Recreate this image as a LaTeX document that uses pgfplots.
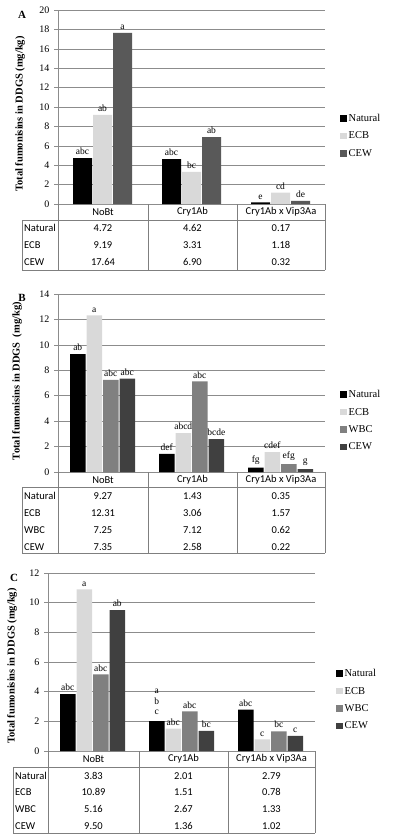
\documentclass[border=0pt]{standalone}
\usepackage{pgfplots}
\pgfplotsset{compat=1.18}
\usepackage{fontspec}
\setmainfont{Liberation Serif}
\newfontfamily\calibri{Carlito}
\definecolor{ecb}{HTML}{D9D9D9}
\definecolor{wbc}{HTML}{808080}
\definecolor{cewA}{HTML}{595959}
\definecolor{cew}{HTML}{404040}
\definecolor{gridc}{HTML}{8C8C8C}
\definecolor{tabc}{HTML}{7F7F7F}

\pgfplotsset{
 sq/.style={legend image code/.code={\fill[##1] (0pt,-3pt) rectangle (6.5pt,3.5pt);}},
 panel/.style={scale only axis, width=267pt, xmin=-0.5, xmax=2.5, ymin=0,
  xtick=\empty, axis x line*=bottom, axis y line*=left,
  axis line style={gridc, line width=0.6pt}, ymajorgrids,
  grid style={gridc, line width=0.6pt}, tick align=outside,
  major tick length=4pt, ytick style={gridc, line width=0.6pt},
  yticklabel style={font=\fontsize{10}{11}\selectfont, xshift=-1pt},
  /pgf/number format/assume math mode=true,
  nodes near coords, point meta=explicit symbolic,
  every node near coord/.append style={font=\fontsize{9.5}{10}\selectfont, inner sep=1pt, yshift=2pt, text=black},
  legend style={draw=none, fill=none, font=\fontsize{10.5}{11}\selectfont, anchor=west, row sep=5pt,
   /tikz/every even column/.append style={column sep=2pt}},
  legend cell align=left,
  clip=false,
 }
}

\begin{document}
\begin{tikzpicture}
\useasboundingbox (0,0) rectangle (392pt,-839pt);
\tikzset{tabtxt/.style={font=\calibri\fontsize{10.5}{11}\selectfont, inner sep=0pt},
 ylab/.style={rotate=90, font=\bfseries\fontsize{10.5}{12}\selectfont},
 plab/.style={font=\bfseries\fontsize{11}{12}\selectfont}}

% ---------------- Panel A ----------------
\begin{axis}[panel, at={(58pt,-204pt)}, anchor=south west, height=194pt,
  ymax=20, ytick={0,2,...,20}, ybar=1pt, bar width=19pt,
  legend style={at={(1.045,0.35)}}]
\addplot[fill=black, draw=none, sq] coordinates {(0,4.72)[abc] (1,4.62)[abc] (2,0.17)[e]};
\addplot[fill=ecb, draw=none, sq] coordinates {(0,9.19)[ab] (1,3.31)[bc] (2,1.18)[cd]};
\addplot[fill=cewA, draw=none, sq] coordinates {(0,17.64)[a] (1,6.90)[ab] (2,0.32)[de]};
\legend{Natural, ECB, CEW}
\end{axis}
\draw[tabc, line width=0.6pt] (22pt,-220pt) -- (325pt,-220pt) (22pt,-270pt) -- (325pt,-270pt)
  (22pt,-220pt) -- (22pt,-270pt) (58pt,-204pt) -- (58pt,-270pt) (148pt,-204pt) -- (148pt,-270pt)
  (237pt,-204pt) -- (237pt,-270pt) (325pt,-204pt) -- (325pt,-270pt);
\node[tabtxt] at (103pt,-212pt) {NoBt};
\node[tabtxt] at (192.5pt,-212pt) {Cry1Ab};
\node[tabtxt] at (281pt,-212pt) {Cry1Ab x Vip3Aa};
\node[tabtxt, anchor=west] at (24pt,-228pt) {Natural};
\node[tabtxt, anchor=west] at (24pt,-245pt) {ECB};
\node[tabtxt, anchor=west] at (24pt,-262pt) {CEW};
\node[tabtxt] at (103pt,-228pt) {4.72}; \node[tabtxt] at (192.5pt,-228pt) {4.62}; \node[tabtxt] at (281pt,-228pt) {0.17};
\node[tabtxt] at (103pt,-245pt) {9.19}; \node[tabtxt] at (192.5pt,-245pt) {3.31}; \node[tabtxt] at (281pt,-245pt) {1.18};
\node[tabtxt] at (103pt,-262pt) {17.64}; \node[tabtxt] at (192.5pt,-262pt) {6.90}; \node[tabtxt] at (281pt,-262pt) {0.32};
\node[ylab] at (20pt,-114pt) {Total fumonisins in DDGS (mg/kg)};
\node[plab] at (22pt,-15pt) {A};

% ---------------- Panel B ----------------
\begin{axis}[panel, at={(58pt,-472pt)}, anchor=south west, height=178pt,
  ymax=14, ytick={0,2,...,14}, ybar=1pt, bar width=15.5pt,
  legend style={at={(1.045,0.287)}}]
\addplot[fill=black, draw=none, sq] coordinates {(0,9.27)[ab] (1,1.43)[def] (2,0.35)[fg]};
\addplot[fill=ecb, draw=none, sq] coordinates {(0,12.31)[a] (1,3.06)[abcd] (2,1.57)[cdef]};
\addplot[fill=wbc, draw=none, sq] coordinates {(0,7.25)[abc] (1,7.12)[abc] (2,0.62)[efg]};
\addplot[fill=cew, draw=none, sq] coordinates {(0,7.35)[abc] (1,2.58)[bcde] (2,0.22)[g]};
\legend{Natural, ECB, WBC, CEW}
\end{axis}
\draw[tabc, line width=0.6pt] (22pt,-487pt) -- (325pt,-487pt) (22pt,-553pt) -- (325pt,-553pt)
  (22pt,-487pt) -- (22pt,-553pt) (58pt,-472pt) -- (58pt,-553pt) (148pt,-472pt) -- (148pt,-553pt)
  (237pt,-472pt) -- (237pt,-553pt) (325pt,-472pt) -- (325pt,-553pt);
\node[tabtxt] at (103pt,-480pt) {NoBt};
\node[tabtxt] at (192.5pt,-480pt) {Cry1Ab};
\node[tabtxt] at (281pt,-480pt) {Cry1Ab x Vip3Aa};
\node[tabtxt, anchor=west] at (24pt,-496pt) {Natural};
\node[tabtxt, anchor=west] at (24pt,-513pt) {ECB};
\node[tabtxt, anchor=west] at (24pt,-530pt) {WBC};
\node[tabtxt, anchor=west] at (24pt,-547pt) {CEW};
\node[tabtxt] at (103pt,-496pt) {9.27}; \node[tabtxt] at (192.5pt,-496pt) {1.43}; \node[tabtxt] at (281pt,-496pt) {0.35};
\node[tabtxt] at (103pt,-513pt) {12.31}; \node[tabtxt] at (192.5pt,-513pt) {3.06}; \node[tabtxt] at (281pt,-513pt) {1.57};
\node[tabtxt] at (103pt,-530pt) {7.25}; \node[tabtxt] at (192.5pt,-530pt) {7.12}; \node[tabtxt] at (281pt,-530pt) {0.62};
\node[tabtxt] at (103pt,-547pt) {7.35}; \node[tabtxt] at (192.5pt,-547pt) {2.58}; \node[tabtxt] at (281pt,-547pt) {0.22};
\node[ylab] at (17pt,-381pt) {Total fumonisins in DDGS\ \ (mg/kg)};
\node[plab] at (22pt,-298pt) {B};

% ---------------- Panel C ----------------
\begin{axis}[panel, at={(48pt,-751pt)}, anchor=south west, height=178pt,
  ymax=12, ytick={0,2,...,12}, ybar=1pt, bar width=15.5pt,
  legend style={at={(1.067,0.287)}}]
\addplot[fill=black, draw=none, sq] coordinates {(0,3.83)[abc] (1,2.01)[] (2,2.79)[abc]};
\addplot[fill=ecb, draw=none, sq] coordinates {(0,10.89)[a] (1,1.51)[abc] (2,0.78)[c]};
\addplot[fill=wbc, draw=none, sq] coordinates {(0,5.16)[abc] (1,2.67)[abc] (2,1.33)[bc]};
\addplot[fill=cew, draw=none, sq] coordinates {(0,9.50)[ab] (1,1.36)[bc] (2,1.02)[c]};
\legend{Natural, ECB, WBC, CEW}
\node[anchor=south, align=center, font=\fontsize{9.5}{10.5}\selectfont, inner sep=1pt]
  at ([xshift=-24.75pt, yshift=5pt]axis cs:1,2.01) {a\\b\\c};
\end{axis}
\draw[tabc, line width=0.6pt] (13pt,-767pt) -- (315pt,-767pt) (13pt,-833pt) -- (315pt,-833pt)
  (13pt,-767pt) -- (13pt,-833pt) (48pt,-751pt) -- (48pt,-833pt) (139pt,-751pt) -- (139pt,-833pt)
  (228pt,-751pt) -- (228pt,-833pt) (315pt,-751pt) -- (315pt,-833pt);
\node[tabtxt] at (93.5pt,-759pt) {NoBt};
\node[tabtxt] at (183.5pt,-759pt) {Cry1Ab};
\node[tabtxt] at (271.5pt,-759pt) {Cry1Ab x Vip3Aa};
\node[tabtxt, anchor=west] at (15pt,-776pt) {Natural};
\node[tabtxt, anchor=west] at (15pt,-792pt) {ECB};
\node[tabtxt, anchor=west] at (15pt,-809pt) {WBC};
\node[tabtxt, anchor=west] at (15pt,-826pt) {CEW};
\node[tabtxt] at (93.5pt,-776pt) {3.83}; \node[tabtxt] at (183.5pt,-776pt) {2.01}; \node[tabtxt] at (271.5pt,-776pt) {2.79};
\node[tabtxt] at (93.5pt,-792pt) {10.89}; \node[tabtxt] at (183.5pt,-792pt) {1.51}; \node[tabtxt] at (271.5pt,-792pt) {0.78};
\node[tabtxt] at (93.5pt,-809pt) {5.16}; \node[tabtxt] at (183.5pt,-809pt) {2.67}; \node[tabtxt] at (271.5pt,-809pt) {1.33};
\node[tabtxt] at (93.5pt,-826pt) {9.50}; \node[tabtxt] at (183.5pt,-826pt) {1.36}; \node[tabtxt] at (271.5pt,-826pt) {1.02};
\node[ylab] at (12pt,-666pt) {Total fumonisins in DDGS (mg/kg)};
\node[plab] at (14pt,-578pt) {C};
\end{tikzpicture}
\end{document}
